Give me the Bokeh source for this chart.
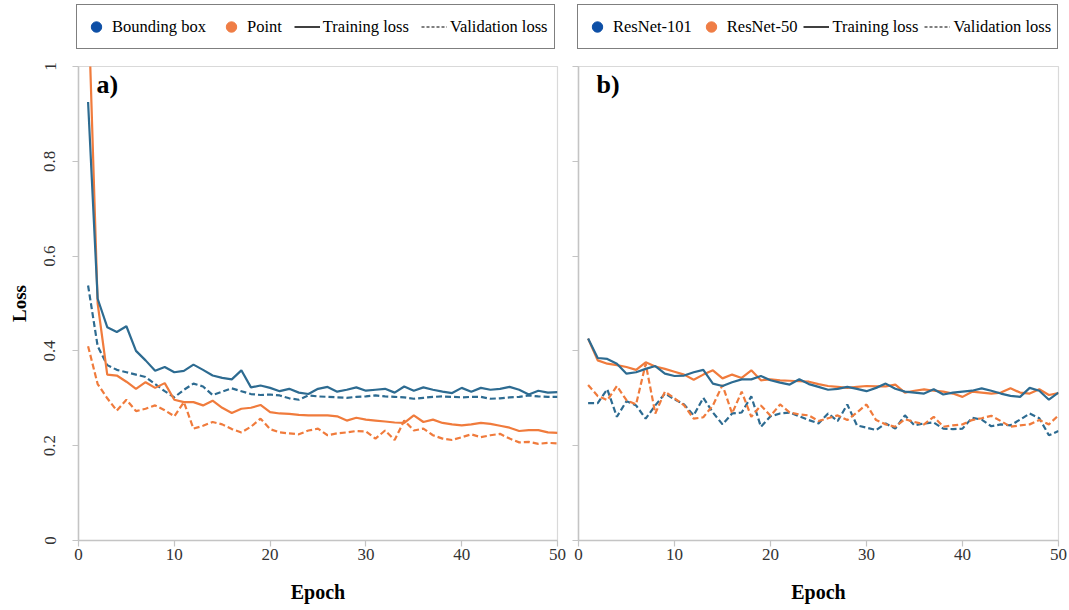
from bokeh.plotting import figure
from bokeh.models import Legend, LegendItem, Label, FixedTicker
from bokeh.layouts import row, column
from bokeh.embed import file_html
from bokeh.resources import INLINE

epochs = list(range(1, 51))

# Panel a) Bounding box vs Point
bbox_train = [0.925, 0.51, 0.45, 0.44, 0.452, 0.40, 0.38, 0.358, 0.366, 0.355,
              0.358, 0.371, 0.36, 0.348, 0.343, 0.340, 0.359, 0.323, 0.327, 0.322,
              0.315, 0.320, 0.312, 0.309, 0.320, 0.324, 0.314, 0.318, 0.323, 0.316,
              0.318, 0.320, 0.312, 0.325, 0.316, 0.323, 0.318, 0.314, 0.311, 0.322,
              0.314, 0.322, 0.318, 0.320, 0.324, 0.318, 0.308, 0.316, 0.312, 0.313]
bbox_val = [0.538, 0.41, 0.37, 0.36, 0.355, 0.35, 0.345, 0.33, 0.315, 0.302,
            0.318, 0.331, 0.325, 0.307, 0.314, 0.321, 0.315, 0.309, 0.307, 0.308,
            0.306, 0.300, 0.297, 0.306, 0.304, 0.303, 0.302, 0.301, 0.303, 0.304,
            0.306, 0.304, 0.303, 0.302, 0.299, 0.301, 0.303, 0.304, 0.303, 0.302,
            0.303, 0.303, 0.299, 0.300, 0.302, 0.303, 0.306, 0.304, 0.303, 0.303]
point_train = [1.15, 0.50, 0.35, 0.348, 0.335, 0.32, 0.334, 0.322, 0.332, 0.297,
               0.292, 0.292, 0.285, 0.295, 0.28, 0.269, 0.278, 0.28, 0.286, 0.271,
               0.268, 0.267, 0.265, 0.264, 0.264, 0.264, 0.262, 0.253, 0.259, 0.255,
               0.253, 0.251, 0.249, 0.248, 0.264, 0.250, 0.255, 0.248, 0.245, 0.243,
               0.245, 0.248, 0.246, 0.242, 0.238, 0.231, 0.233, 0.233, 0.228, 0.227]
point_val = [0.41, 0.33, 0.30, 0.274, 0.297, 0.273, 0.278, 0.285, 0.275, 0.262,
             0.292, 0.236, 0.242, 0.250, 0.245, 0.235, 0.228, 0.24, 0.257, 0.235,
             0.228, 0.226, 0.224, 0.232, 0.236, 0.222, 0.226, 0.228, 0.231, 0.230,
             0.215, 0.232, 0.212, 0.253, 0.232, 0.236, 0.222, 0.215, 0.212, 0.218,
             0.224, 0.218, 0.222, 0.225, 0.215, 0.207, 0.208, 0.204, 0.206, 0.205]

# Panel b) ResNet-101 vs ResNet-50
r101_train = [0.426, 0.385, 0.383, 0.373, 0.352, 0.355, 0.362, 0.368, 0.352, 0.347,
              0.348, 0.355, 0.360, 0.331, 0.326, 0.334, 0.340, 0.340, 0.347, 0.338,
              0.333, 0.329, 0.340, 0.330, 0.324, 0.318, 0.320, 0.324, 0.320, 0.315,
              0.322, 0.331, 0.320, 0.314, 0.312, 0.310, 0.319, 0.308, 0.312, 0.314,
              0.316, 0.321, 0.316, 0.310, 0.305, 0.303, 0.322, 0.316, 0.297, 0.312]
r50_train = [0.426, 0.380, 0.373, 0.370, 0.366, 0.360, 0.376, 0.367, 0.362, 0.356,
             0.350, 0.339, 0.350, 0.359, 0.342, 0.350, 0.343, 0.359, 0.338, 0.340,
             0.338, 0.337, 0.336, 0.335, 0.330, 0.326, 0.324, 0.322, 0.324, 0.326,
             0.325, 0.325, 0.329, 0.312, 0.316, 0.319, 0.316, 0.314, 0.310, 0.303,
             0.314, 0.312, 0.310, 0.312, 0.321, 0.312, 0.310, 0.319, 0.307, 0.311]
r101_val = [0.290, 0.290, 0.319, 0.261, 0.294, 0.285, 0.257, 0.285, 0.310, 0.298,
            0.287, 0.264, 0.301, 0.270, 0.245, 0.268, 0.270, 0.304, 0.240, 0.262,
            0.268, 0.270, 0.262, 0.254, 0.247, 0.268, 0.252, 0.287, 0.243, 0.238,
            0.233, 0.247, 0.236, 0.264, 0.243, 0.247, 0.249, 0.236, 0.235, 0.236,
            0.259, 0.255, 0.241, 0.245, 0.243, 0.255, 0.268, 0.258, 0.222, 0.231]
r50_val = [0.328, 0.305, 0.296, 0.326, 0.296, 0.287, 0.373, 0.268, 0.314, 0.300,
           0.285, 0.257, 0.260, 0.285, 0.328, 0.268, 0.314, 0.261, 0.285, 0.263,
           0.287, 0.270, 0.266, 0.264, 0.252, 0.258, 0.264, 0.254, 0.270, 0.287,
           0.254, 0.245, 0.240, 0.256, 0.250, 0.245, 0.261, 0.240, 0.243, 0.245,
           0.254, 0.258, 0.263, 0.252, 0.240, 0.243, 0.245, 0.254, 0.245, 0.264]

x_ticks = [0, 10, 20, 30, 40, 50]
y_ticks = [0, 0.2, 0.4, 0.6, 0.8, 1]
y_tick_labels = {0: "0", 0.2: "0.2", 0.4: "0.4", 0.6: "0.6", 0.8: "0.8", 1: "1"}

legend_a = ["Bounding box", "Point", "Training loss", "Validation loss"]
legend_b = ["ResNet-101", "ResNet-50", "Training loss", "Validation loss"]

BLUE = "#2d6b91"
ORANGE = "#f07b3c"
BLUE_MK = "#0d4fa6"
ORANGE_MK = "#ef7d45"
SERIF = "Liberation Serif"
AXIS_GREY = "#c4c4c4"
NAN = float("nan")


def add_legend(lf, names, loc, spacing):
    # legend-only renderers (no visible marks; NaN keeps them off the canvas)
    r_c1 = lf.scatter([NAN], [NAN], marker="circle", color=BLUE_MK)
    r_c2 = lf.scatter([NAN], [NAN], marker="circle", color=ORANGE_MK)
    r_tr = lf.line([NAN, NAN], [NAN, NAN], color="black", line_width=1.5)
    r_va = lf.line([NAN, NAN], [NAN, NAN], color="black", line_width=1.2,
                   line_dash="3 2")
    legend = Legend(items=[LegendItem(label=names[0], renderers=[r_c1]),
                           LegendItem(label=names[1], renderers=[r_c2]),
                           LegendItem(label=names[2], renderers=[r_tr]),
                           LegendItem(label=names[3], renderers=[r_va])],
                    orientation="horizontal", location=loc,
                    label_text_font=SERIF, label_text_font_size="16.5px",
                    label_text_color="black",
                    glyph_width=26, glyph_height=31, label_standoff=3,
                    spacing=spacing, padding=6, margin=0,
                    border_line_color="black", border_line_width=1.4,
                    background_fill_color="white", background_fill_alpha=1)
    lf.add_layout(legend, "center")


legend_fig = figure(width=1069, height=58, x_range=(0, 1), y_range=(0, 1),
                    output_backend="svg", toolbar_location=None,
                    min_border=0, min_border_left=0, min_border_right=0,
                    min_border_top=0, min_border_bottom=0)
legend_fig.axis.visible = False
legend_fig.grid.visible = False
legend_fig.outline_line_color = None
add_legend(legend_fig, legend_a, (76, 9), 12)
add_legend(legend_fig, legend_b, (577, 9), 6)


def make_panel(width, bl, br, bb, tag, train1, val1, train2, val2,
               show_ylabels):
    p = figure(width=width, height=552, x_range=(0, 50), y_range=(0, 1),
               output_backend="svg", toolbar_location=None,
               min_border_left=bl, min_border_right=br,
               min_border_top=8, min_border_bottom=bb)
    p.grid.visible = False
    p.outline_line_color = "#d9d9d9"
    p.outline_line_width = 1.2
    p.background_fill_color = "white"
    p.border_fill_color = "white"

    p.xaxis.ticker = FixedTicker(ticks=x_ticks)
    p.yaxis.ticker = FixedTicker(ticks=y_ticks)
    for ax in (p.xaxis[0], p.yaxis[0]):
        ax.axis_line_color = AXIS_GREY
        ax.axis_line_width = 1.5
        ax.major_tick_line_color = AXIS_GREY
        ax.major_tick_line_width = 1.2
        ax.major_tick_out = 6
        ax.major_tick_in = 0
        ax.minor_tick_line_color = None
        ax.major_label_text_font = SERIF
        ax.major_label_text_color = "#333333"
        ax.axis_label_text_font = SERIF
        ax.axis_label_text_font_style = "bold"
        ax.axis_label_text_color = "black"

    p.xaxis.major_label_text_font_size = "17px"
    p.xaxis.major_label_standoff = 2
    p.xaxis.axis_label = "Epoch"
    p.xaxis.axis_label_text_font_size = "20px"
    p.xaxis.axis_label_standoff = 18

    if show_ylabels:
        p.yaxis.major_label_overrides = y_tick_labels
        p.yaxis.major_label_orientation = "vertical"
        p.yaxis.major_label_text_font_size = "17px"
        p.yaxis.major_label_standoff = 17
        p.yaxis.axis_label = "Loss"
        p.yaxis.axis_label_text_font_size = "19px"
        p.yaxis.axis_label_standoff = 12
    else:
        p.yaxis.major_label_overrides = {t: "" for t in y_ticks}
        p.yaxis.major_label_text_font_size = "1px"
        p.yaxis.major_label_standoff = 0

    dash = "6 3"
    p.line(epochs, val1, color=BLUE, line_width=2.2, line_dash=dash)
    p.line(epochs, val2, color=ORANGE, line_width=2.2, line_dash=dash)
    p.line(epochs, train2, color=ORANGE, line_width=2.2)
    p.line(epochs, train1, color=BLUE, line_width=2.2)

    p.add_layout(Label(x=18, y=442, x_units="screen", y_units="screen",
                       text=tag, text_font=SERIF, text_font_size="26px",
                       text_font_style="bold", text_color="black"))
    return p


pa = make_panel(567, 78, 10, 70, "a)", bbox_train, bbox_val, point_train, point_val,
                True)
pb = make_panel(502, 11, 11, 68, "b)", r101_train, r101_val, r50_train, r50_val,
                False)

layout = column(legend_fig, row(pa, pb, spacing=0), spacing=0)
open("out.html", "w").write(file_html(layout, INLINE))
